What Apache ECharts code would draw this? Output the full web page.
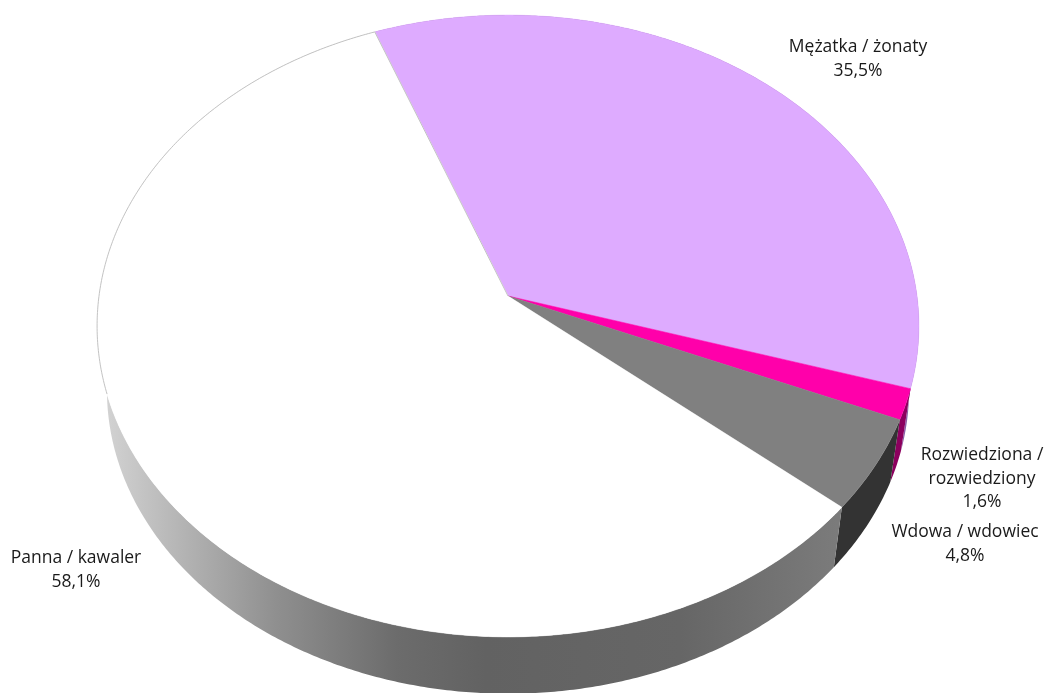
<!DOCTYPE html>
<html>
<head>
<meta charset="utf-8">
<style>html,body{margin:0;padding:0;background:#fff}#c{width:1044px;height:693px}</style>
<script src="https://cdn.jsdelivr.net/npm/echarts@6/dist/echarts.min.js"></script>
</head>
<body>
<div id="c"></div>
<script>
const categories = ['Mężatka / żonaty', 'Rozwiedziona / rozwiedziony', 'Wdowa / wdowiec', 'Panna / kawaler'];
const labelLines = [['Mężatka / żonaty'], ['Rozwiedziona /', 'rozwiedziony'], ['Wdowa / wdowiec'], ['Panna / kawaler']];
const values = [35.5, 1.6, 4.8, 58.1];
const topColors = ['#DEABFF', '#FF00AA', '#808080', '#FFFFFF'];
const sideColors = ['#8a5fa8', '#8C005E', '#333333', null];

// projection of the tilted disc
const view = { cx: 508, cy: 296, a: 409, b: 308, k: 0.0965, start: -20.8, depthY: 65, depthScale: 0.976 };
const labelAnchor = [[858, 59], [982, 479], [965, 544], [76, 570]];

const total = values.reduce((s, v) => s + v, 0);
function angles(i) {
  let before = 0;
  for (let j = 0; j < i; j++) before += values[j];
  return [view.start + before / total * 360, view.start + (before + values[i]) / total * 360];
}
function project(deg, rad, bottom) {
  const t = deg * Math.PI / 180, u = Math.sin(t) * rad, v = Math.cos(t) * rad;
  const w = 1 + view.k * v;
  const x = view.a * u / w, y = -view.b * v / w;
  return bottom
    ? [view.cx + x * view.depthScale, view.cy + view.depthY + y * view.depthScale]
    : [view.cx + x, view.cy + y];
}
function arc(a0, a1, bottom) {
  const n = Math.max(2, Math.ceil(Math.abs(a1 - a0) * 2)), pts = [];
  for (let i = 0; i <= n; i++) pts.push(project(a0 + (a1 - a0) * i / n, 1, bottom));
  return pts;
}
const sideGradient = new echarts.graphic.LinearGradient(97, 0, 845, 0, [
  { offset: 0, color: '#d6d6d6' },
  { offset: 0.10, color: '#b8b8b8' },
  { offset: 0.24, color: '#8f8f8f' },
  { offset: 0.40, color: '#6c6c6c' },
  { offset: 0.52, color: '#626262' },
  { offset: 0.78, color: '#666666' },
  { offset: 1, color: '#7c7c7c' }
], true);

function renderSide(params, api) {
  const i = params.dataIndex, [a0, a1] = angles(i);
  const pts = arc(a0, a1, false).concat(arc(a0, a1, true).reverse());
  return { type: 'polygon', shape: { points: pts }, style: { fill: sideColors[i] || sideGradient, stroke: null } };
}
function renderTop(params, api) {
  const i = params.dataIndex, [a0, a1] = angles(i);
  const pts = [[view.cx, view.cy]].concat(arc(a0, a1, false));
  const children = [{
    type: 'polygon', shape: { points: pts },
    style: { fill: topColors[i], stroke: topColors[i], lineWidth: 0.5, lineJoin: 'round' }
  }];
  if (i === 3) {
    // thin grey outline only where the white slice meets the white page and the lilac slice
    const back = arc(252, a1, false).concat([[view.cx, view.cy]]);
    children.push({ type: 'polyline', shape: { points: back }, style: { stroke: '#c4c4c4', fill: 'none', lineWidth: 1, lineJoin: 'round' } });
  }
  return { type: 'group', children };
}
function renderLabels(params, api) {
  const i = params.dataIndex, v = api.value(0);
  const text = labelLines[i].concat([String(v).replace('.', ',') + '%']).join('\n');
  return {
    type: 'text', x: labelAnchor[i][0], y: labelAnchor[i][1],
    style: { text, fill: '#1a1a1a', font: '17.5px "Open Sans", Lato, sans-serif', align: 'center', verticalAlign: 'middle', lineHeight: 23.5 }
  };
}
const chart = echarts.init(document.getElementById('c'), null, { renderer: 'canvas' });
chart.setOption({
  animation: false,
  backgroundColor: '#ffffff',
  series: [
    { type: 'custom', coordinateSystem: 'none', silent: true, z: 1, data: values.map(v => [v]), renderItem: renderSide },
    { type: 'custom', coordinateSystem: 'none', silent: true, z: 2, data: values.map(v => [v]), renderItem: renderTop },
    { type: 'custom', coordinateSystem: 'none', silent: true, z: 3, data: values.map((v, i) => ({ name: categories[i], value: [v] })), renderItem: renderLabels }
  ]
});
</script>
</body>
</html>
